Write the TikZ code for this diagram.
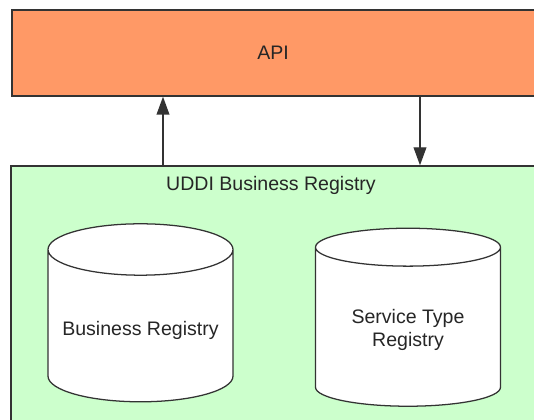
\documentclass[tikz,border=0pt]{standalone}
\usepackage{fontspec}
\setmainfont{Liberation Sans}
\usepackage{tikz}
\usetikzlibrary{positioning}
\usetikzlibrary{arrows.meta}
\usetikzlibrary{shapes.geometric}
\definecolor{apiorange}{HTML}{FF9966}
\definecolor{uddigreen}{HTML}{CCFFCC}
\tikzset{
    node distance=6.6875cm, % Distance between the two registries
    every node/.style={
        font=\fontsize{13.9}{16.7}\selectfont,
        text=black!85
    },
    box/.style={ % Big rectangles
        draw=black!80,
        line width=1pt,
        inner sep=0pt
    },
    registry/.style={ % Database cylinders
        cylinder,
        shape border rotate=90,
        shape aspect=0.31,
        draw=black!80,
        line width=0.9pt,
        fill=white,
        minimum width=4.625cm,
        minimum height=4.45cm,
        align=center
    },
    flow/.style={ % Calls between API and registry
        draw=black!80,
        line width=1pt,
        -{Triangle[length=0.45cm,width=0.32cm]}
    }
}

\begin{document}
\begin{tikzpicture}
    \clip (0,0) rectangle (13.35,10.5);
    \fill[white] (0,0) rectangle (13.35,10.5);

    \node[box, fill=apiorange, minimum width=13.15cm, minimum height=2.15cm] (api) at (6.875,9.175) {};
    \node[anchor=base] (apitext) at (6.825,9.0) {API};

    \node[box, fill=uddigreen, minimum width=13.3cm, minimum height=7.0cm] (uddi) at (6.925,2.85) {};
    \node[anchor=base] (udditext) at (6.775,5.725) {UDDI Business Registry};

    \node[registry] (business) at (3.5125,2.25) {Business Registry};
    \node[registry, right=of business.center, anchor=center] (servicetype) {Service Type\\Registry};

    \draw[flow] (uddi.north -| 4.075,0) -- (api.south -| 4.075,0);
    \draw[flow] (api.south -| 10.5,0) -- (uddi.north -| 10.5,0);
\end{tikzpicture}
\end{document}
